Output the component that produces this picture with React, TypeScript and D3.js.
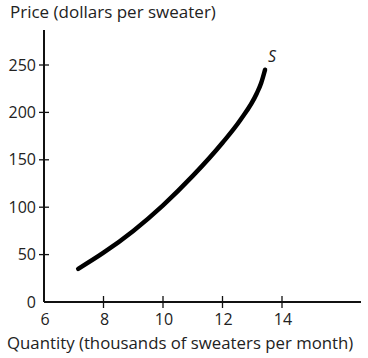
import React from "react";
import * as d3 from "d3";

const xTicks = [6, 8, 10, 12, 14];
const yTicks = [0, 50, 100, 150, 200, 250];
const supplyQ = [7.15, 8, 9, 10, 11, 12, 12.6, 13.15, 13.3, 13.43];
const supplyP = [35, 52, 75, 102, 133, 168, 192, 220, 231, 245];
const curveLabel = "S";
const xTitle = "Quantity (thousands of sweaters per month)";
const yTitle = "Price (dollars per sweater)";

export default function App() {
  const W = 368, H = 358;
  const x = d3.scaleLinear().domain([6, 14]).range([44, 282]);
  const y = d3.scaleLinear().domain([0, 250]).range([302, 65]);
  const pts = supplyQ.map((q, i) => [q, supplyP[i]] as [number, number]);
  const line = d3.line<[number, number]>().x(d => x(d[0])).y(d => y(d[1])).curve(d3.curveMonotoneX);
  const font = "'Open Sans', Lato, sans-serif";
  return (
    <svg width={W} height={H} style={{ position: "absolute", left: 0, top: 0, background: "#fff" }}>
      <text x={10} y={18} fontFamily={font} fontSize={17} fill="#222">{yTitle}</text>
      <line x1={x(6)} x2={x(6)} y1={30} y2={y(0)} stroke="#111" strokeWidth={2} />
      <line x1={x(6)} x2={361} y1={y(0)} y2={y(0)} stroke="#111" strokeWidth={2} />
      {yTicks.map(t => (
        <g key={"y" + t}>
          {t > 0 && <line x1={x(6) - 5} x2={x(6) + 5} y1={y(t)} y2={y(t)} stroke="#111" strokeWidth={1.3} />}
          <text x={36} y={y(t) + 5.5} textAnchor="end" fontFamily={font} fontSize={16} fill="#222">{t}</text>
        </g>
      ))}
      {xTicks.map(t => (
        <g key={"x" + t}>
          {t > 6 && <line x1={x(t)} x2={x(t)} y1={y(0) - 6} y2={y(0) + 6} stroke="#111" strokeWidth={1.3} />}
          <text x={x(t) + 1} y={325} textAnchor="middle" fontFamily={font} fontSize={16} fill="#222">{t}</text>
        </g>
      ))}
      <path d={line(pts) || ""} fill="none" stroke="#000" strokeWidth={4.5} strokeLinecap="round" />
      <text x={272} y={62} textAnchor="middle" fontFamily={font} fontStyle="italic" fontSize={16} fill="#222">{curveLabel}</text>
      <text x={7} y={349} fontFamily={font} fontSize={16.8} fill="#222">{xTitle}</text>
    </svg>
  );
}
